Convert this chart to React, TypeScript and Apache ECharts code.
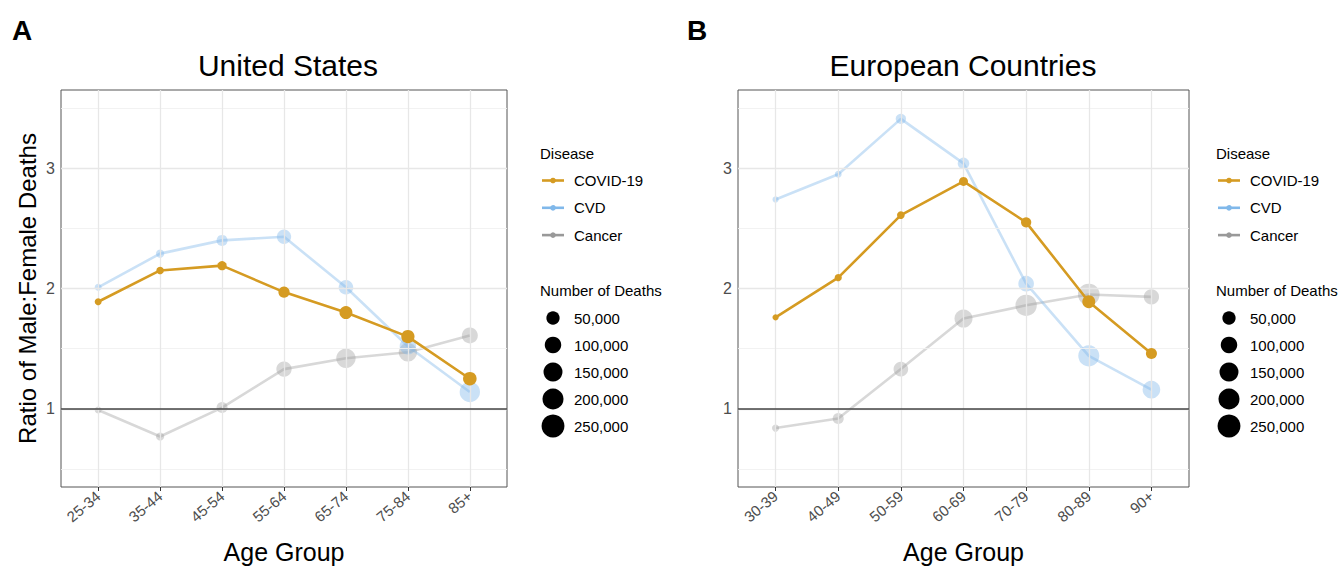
import React, { useEffect, useRef } from "react";
import * as echarts from "echarts";

// ---------- data ----------
const usAgeGroups = ["25-34", "35-44", "45-54", "55-64", "65-74", "75-84", "85+"];
const euAgeGroups = ["30-39", "40-49", "50-59", "60-69", "70-79", "80-89", "90+"];

const usCovidRatio = [1.89, 2.15, 2.19, 1.97, 1.8, 1.6, 1.25];
const usCovidDeaths = [1600, 3400, 11500, 27000, 46000, 50000, 54000];
const usCvdRatio = [2.01, 2.29, 2.4, 2.43, 2.01, 1.52, 1.14];
const usCvdDeaths = [1600, 6000, 25000, 64000, 68000, 100000, 183000];
const usCancerRatio = [0.99, 0.77, 1.01, 1.33, 1.42, 1.47, 1.61];
const usCancerDeaths = [1600, 6000, 25000, 80000, 159000, 136000, 91000];

const euCovidRatio = [1.76, 2.09, 2.61, 2.89, 2.55, 1.89, 1.46];
const euCovidDeaths = [500, 2400, 4000, 10000, 19000, 46000, 25000];
const euCvdRatio = [2.74, 2.95, 3.41, 3.04, 2.04, 1.44, 1.16];
const euCvdDeaths = [400, 1600, 19000, 30000, 85000, 200000, 122000];
const euCancerRatio = [0.84, 0.92, 1.33, 1.75, 1.86, 1.95, 1.93];
const euCancerDeaths = [2400, 25000, 69000, 130000, 208000, 217000, 79000];

const diseaseNames = ["COVID-19", "CVD", "Cancer"];
const sizeBreaks = [50000, 100000, 150000, 200000, 250000];
const yTicks = [1, 2, 3];
const yMinorLines = [0.5, 1.5, 2.5, 3.5];
const panelTitles = ["United States", "European Countries"];
const panelLetters = ["A", "B"];

// ---------- styling ----------
const FONT = "Liberation Sans, Arial, Helvetica, sans-serif";
const covidColor = "#D59B22";
const cvdBase = "#80B8EA";
const cancerBase = "#999999";
const cvdAlpha = "rgba(128,184,234,0.42)";
const cancerAlpha = "rgba(153,153,153,0.38)";

const sizeOf = (n: number) => 5.5 + 1.1 * Math.sqrt(n / 1000);

const grids = [
  { left: 61, top: 90, width: 446, height: 402 },
  { left: 738, top: 90, width: 451, height: 402 },
];

export default function App() {
  const ref = useRef<HTMLDivElement>(null);

  useEffect(() => {
    if (!ref.current) return;
    const chart = echarts.init(ref.current, undefined, { renderer: "svg" });

    const panels = [
      {
        cats: usAgeGroups,
        series: [
          { name: "Cancer", ratio: usCancerRatio, deaths: usCancerDeaths, color: cancerAlpha, z: 3 },
          { name: "CVD", ratio: usCvdRatio, deaths: usCvdDeaths, color: cvdAlpha, z: 4 },
          { name: "COVID-19", ratio: usCovidRatio, deaths: usCovidDeaths, color: covidColor, z: 5 },
        ],
      },
      {
        cats: euAgeGroups,
        series: [
          { name: "Cancer", ratio: euCancerRatio, deaths: euCancerDeaths, color: cancerAlpha, z: 3 },
          { name: "CVD", ratio: euCvdRatio, deaths: euCvdDeaths, color: cvdAlpha, z: 4 },
          { name: "COVID-19", ratio: euCovidRatio, deaths: euCovidDeaths, color: covidColor, z: 5 },
        ],
      },
    ];

    const xAxes: any[] = [];
    const yAxes: any[] = [];
    const series: any[] = [];

    panels.forEach((p, i) => {
      const idx = p.cats.map((_, k) => k);
      xAxes.push({
        type: "value",
        gridIndex: i,
        min: -0.6,
        max: 6.6,
        axisLine: { show: false },
        splitLine: { show: false },
        axisTick: {
          show: true,
          customValues: idx,
          length: 4,
          lineStyle: { color: "#333", width: 1 },
        },
        axisLabel: {
          customValues: idx,
          formatter: (v: number) => p.cats[Math.round(v)] ?? "",
          rotate: 40,
          fontSize: 15,
          color: "#4D4D4D",
          fontFamily: FONT,
          margin: 7,
        },
        name: "Age Group",
        nameLocation: "middle",
        nameGap: 52,
        nameTextStyle: { fontSize: 25, color: "#000", fontFamily: FONT },
      });
      yAxes.push({
        type: "value",
        gridIndex: i,
        min: 0.35,
        max: 3.65,
        axisLine: { show: false },
        splitLine: { show: false },
        axisTick: {
          show: true,
          customValues: yTicks,
          length: 4,
          lineStyle: { color: "#333", width: 1 },
        },
        axisLabel: {
          customValues: yTicks,
          fontSize: 16,
          color: "#4D4D4D",
          fontFamily: FONT,
          margin: 6,
        },
        name: i === 0 ? "Ratio of Male:Female Deaths" : "",
        nameLocation: "middle",
        nameRotate: 90,
        nameGap: 22,
        nameTextStyle: { fontSize: 24, color: "#000", fontFamily: FONT },
      });

      // background grid lines and reference line
      const gridData: any[] = [];
      yMinorLines.forEach((v) =>
        gridData.push({ yAxis: v, lineStyle: { color: "#F1F1F1", width: 0.9, type: "solid" } })
      );
      yTicks.forEach((v) =>
        gridData.push({ yAxis: v, lineStyle: { color: "#E7E7E7", width: 1.3, type: "solid" } })
      );
      idx.forEach((v) =>
        gridData.push({ xAxis: v, lineStyle: { color: "#E7E7E7", width: 1.3, type: "solid" } })
      );
      gridData.push({ yAxis: 1, lineStyle: { color: "#444", width: 1.6, type: "solid" } });

      series.push({
        type: "line",
        xAxisIndex: i,
        yAxisIndex: i,
        data: [],
        z: 1,
        silent: true,
        markLine: {
          silent: true,
          symbol: "none",
          label: { show: false },
          animation: false,
          data: gridData,
        },
      });

      p.series.forEach((s) => {
        series.push({
          name: s.name,
          type: "line",
          xAxisIndex: i,
          yAxisIndex: i,
          z: s.z,
          showSymbol: true,
          showAllSymbol: true,
          symbol: "circle",
          symbolSize: (v: number[]) => sizeOf(v[2]),
          data: s.ratio.map((r, k) => [k, r, s.deaths[k]]),
          lineStyle: { color: s.color, width: 2.6 },
          itemStyle: { color: s.color, borderWidth: 0 },
          emphasis: { disabled: true },
        });
      });
    });

    // ---------- legends, titles, labels as graphics ----------
    const graphic: any[] = [];
    const legendColors = [covidColor, cvdBase, cancerBase];
    const legendX = [540, 1216];
    const titleX = [288, 963];
    const letterX = [12, 687];

    [0, 1].forEach((i) => {
      const lx = legendX[i];
      graphic.push({
        type: "text",
        left: letterX[i],
        top: 16,
        style: { text: panelLetters[i], font: `bold 28px ${FONT}`, fill: "#000" },
      });
      graphic.push({
        type: "text",
        x: titleX[i],
        y: 65,
        style: {
          text: panelTitles[i],
          font: `30px ${FONT}`,
          fill: "#000",
          align: "center",
          verticalAlign: "middle",
        },
      });
      graphic.push({
        type: "text",
        x: lx,
        y: 153,
        style: { text: "Disease", font: `15px ${FONT}`, fill: "#000", verticalAlign: "middle" },
      });
      diseaseNames.forEach((d, k) => {
        const y = 180.5 + k * 27.3;
        graphic.push({
          type: "line",
          shape: { x1: lx + 2, y1: y, x2: lx + 24, y2: y },
          style: { stroke: legendColors[k], lineWidth: 2.6 },
        });
        graphic.push({
          type: "circle",
          shape: { cx: lx + 13, cy: y, r: 2.8 },
          style: { fill: legendColors[k] },
        });
        graphic.push({
          type: "text",
          x: lx + 34,
          y: y,
          style: { text: d, font: `15px ${FONT}`, fill: "#000", verticalAlign: "middle" },
        });
      });
      graphic.push({
        type: "text",
        x: lx,
        y: 290,
        style: {
          text: "Number of Deaths",
          font: `15px ${FONT}`,
          fill: "#000",
          verticalAlign: "middle",
        },
      });
      sizeBreaks.forEach((b, k) => {
        const y = 318 + k * 27;
        graphic.push({
          type: "circle",
          shape: { cx: lx + 13, cy: y, r: sizeOf(b) / 2 },
          style: { fill: "#000" },
        });
        graphic.push({
          type: "text",
          x: lx + 34,
          y: y,
          style: {
            text: b.toLocaleString("en-US"),
            font: `15px ${FONT}`,
            fill: "#000",
            verticalAlign: "middle",
          },
        });
      });
    });

    chart.setOption({
      animation: false,
      backgroundColor: "#fff",
      textStyle: { fontFamily: FONT },
      grid: grids.map((g) => ({
        ...g,
        show: true,
        borderColor: "#555",
        borderWidth: 1,
        backgroundColor: "transparent",
        containLabel: false,
      })),
      xAxis: xAxes,
      yAxis: yAxes,
      series,
      graphic,
    });

    return () => chart.dispose();
  }, []);

  return (
    <div
      ref={ref}
      style={{ position: "absolute", left: 0, top: 0, width: 1343, height: 569 }}
    />
  );
}
